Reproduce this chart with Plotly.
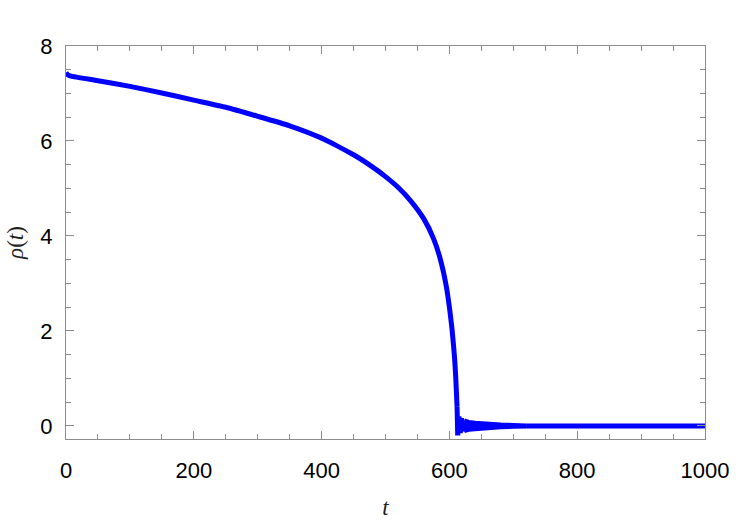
import plotly.graph_objects as go

# main decay curve
t_main = [0, 3, 8, 50, 100, 150, 200, 250, 300, 350, 400, 450, 480, 500, 520,
          540, 560, 575, 585, 595, 600, 604, 608, 610, 612]
rho_main = [7.44, 7.39, 7.365, 7.27, 7.15, 7.01, 6.86, 6.71, 6.52, 6.32, 6.06,
            5.71, 5.45, 5.25, 5.02, 4.73, 4.36, 3.95, 3.55, 2.95, 2.50, 2.05,
            1.45, 1.00, 0.40]

# first swings right after the collapse
t_swing = [612, 613, 615, 617, 619, 621, 623]
rho_swing = [0.40, -0.20, 0.20, -0.15, 0.16, -0.11, 0.11]

# envelope of the damped fast oscillation that follows
t_env = [623, 630, 640, 650, 665, 680, 700, 720]
rho_upper = [0.11, 0.075, 0.055, 0.04, 0.03, 0.02, 0.01, 0.0]
rho_lower = [-0.10, -0.07, -0.05, -0.038, -0.028, -0.018, -0.009, 0.0]

# settled tail
t_tail = [720, 1000]
rho_tail = [0.0, 0.0]

x_ticks = [0, 200, 400, 600, 800, 1000]
y_ticks = [0, 2, 4, 6, 8]

blue = "#0000ff"
fig = go.Figure()
fig.add_trace(go.Scatter(x=t_main, y=rho_main, mode="lines",
                         line=dict(color=blue, width=5, shape="spline", smoothing=0.5),
                         showlegend=False))
fig.add_trace(go.Scatter(x=t_swing, y=rho_swing, mode="lines",
                         line=dict(color=blue, width=5), showlegend=False))
fig.add_trace(go.Scatter(x=t_env + t_env[::-1], y=rho_upper + rho_lower[::-1],
                         mode="lines", fill="toself", fillcolor=blue,
                         line=dict(color=blue, width=5), showlegend=False))
fig.add_trace(go.Scatter(x=t_tail, y=rho_tail, mode="lines",
                         line=dict(color=blue, width=5), showlegend=False))

frame = "#8c8c8c"
tickfont = dict(family="Liberation Sans, Arial, sans-serif", size=22, color="black")
titlefont = dict(family="Liberation Serif", size=23, color="#222")

fig.update_xaxes(range=[0, 1000], tickvals=x_ticks, ticks="inside", ticklen=8,
                 tickcolor=frame, tickwidth=1, showline=True, linecolor=frame,
                 linewidth=1, mirror="ticks", showgrid=False, zeroline=False,
                 tickfont=tickfont, ticklabelstandoff=12, automargin=False,
                 minor=dict(dtick=50, ticks="inside", ticklen=5, tickcolor=frame, showgrid=False),
                 title=dict(text="<i>t</i>", font=titlefont, standoff=16))
fig.update_yaxes(range=[-0.275, 8.0], tickvals=y_ticks, ticks="inside", ticklen=8,
                 tickcolor=frame, tickwidth=1, showline=True, linecolor=frame,
                 linewidth=1, mirror="ticks", showgrid=False, zeroline=False,
                 tickfont=tickfont, ticklabelstandoff=8, automargin=False,
                 minor=dict(dtick=0.5, ticks="inside", ticklen=5, tickcolor=frame, showgrid=False),
                 title=dict(text="<i>ρ</i>(<i>t</i>)", font=titlefont, standoff=10))

fig.update_layout(width=750, height=525, margin=dict(l=66, r=45, t=46, b=86),
                  paper_bgcolor="white", plot_bgcolor="white")

fig.write_html("out.html")
